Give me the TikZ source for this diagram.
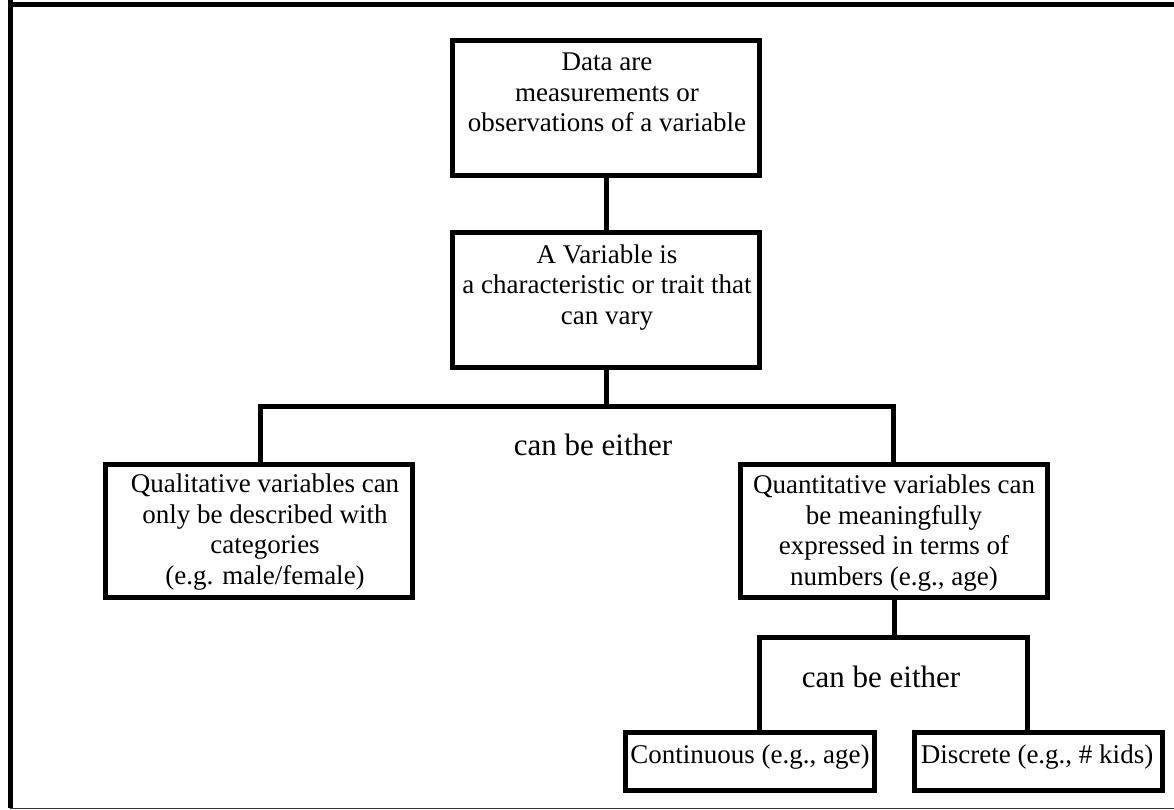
\documentclass[tikz,border=0pt]{standalone}
\usepackage{fontspec}
\setmainfont{Liberation Serif}
\begin{document}
\begin{tikzpicture}[x=1pt,y=-1pt,
  box/.style={draw, line width=5pt, inner sep=0pt},
  conn/.style={line width=5pt, line cap=rect},
  txt/.style={font=\fontsize{27}{30.5}\selectfont, align=center, inner sep=0pt, anchor=base},
  either/.style={font=\fontsize{31}{36}\selectfont, inner sep=0pt, anchor=base},
  frame/.style={line width=4.8pt}]
\useasboundingbox (0,0) rectangle (1174,810);
% frame
\draw[frame] (10.4,0) -- (10.4,808);
\draw[frame] (8,4.3) -- (1174,4.3);
\draw[line width=1.2pt, black!80] (10,808.3) -- (1174,808.3);
% boxes
\node[box, minimum width=307pt, minimum height=135pt] (b1) at (606,108) {};
\node[box, minimum width=307pt, minimum height=135pt] (b2) at (606,300) {};
\node[box, minimum width=307pt, minimum height=133pt] (b3) at (259,531) {};
\node[box, minimum width=307pt, minimum height=133pt] (b4) at (894,531) {};
\node[box, minimum width=249.5pt, minimum height=58pt] (b5) at (750,761.5) {};
\node[box, minimum width=248pt, minimum height=58pt] (b6) at (1038.5,761.5) {};
% texts (anchored at the baseline of the last line)
\node[txt] (t1) at (607,132) {Data are\\measurements or\\observations of a variable};
\node[txt] (t2) at (607,324) {A Variable is\\a characteristic or trait that\\can vary};
\node[txt] (t3) at (265,584) {Qualitative variables can\\only be described with\\categories\\(e.g. male/female)};
\node[txt] (t4) at (894,585) {Quantitative variables can\\be meaningfully\\expressed in terms of\\numbers (e.g., age)};
\node[txt] (t5) at (750,763) {Continuous (e.g., age)};
\node[txt] (t6) at (1037,763) {Discrete (e.g., \# kids)};
\node[either] (e1) at (593,455) {can be either};
\node[either] (e2) at (881,687) {can be either};
% junction coordinates
\coordinate (h1l) at (260.5,406.5);
\coordinate (h1r) at (893.5,406.5);
\coordinate (h1c) at (606,406.5);
\coordinate (h2c) at (894,637.5);
\coordinate (h2l) at (759.5,637.5);
\coordinate (h2r) at (1027.5,637.5);
% connectors
\draw[conn] (b1.south) -- (b2.north);
\draw[conn] (b2.south) -- (h1c);
\draw[conn] (b3.north -| h1l) -- (h1l) -- (h1r) -- (b4.north -| h1r);
\draw[conn] (b4.south) -- (h2c);
\draw[conn] (b5.north -| h2l) -- (h2l) -- (h2r) -- (b6.north -| h2r);
\end{tikzpicture}
\end{document}
